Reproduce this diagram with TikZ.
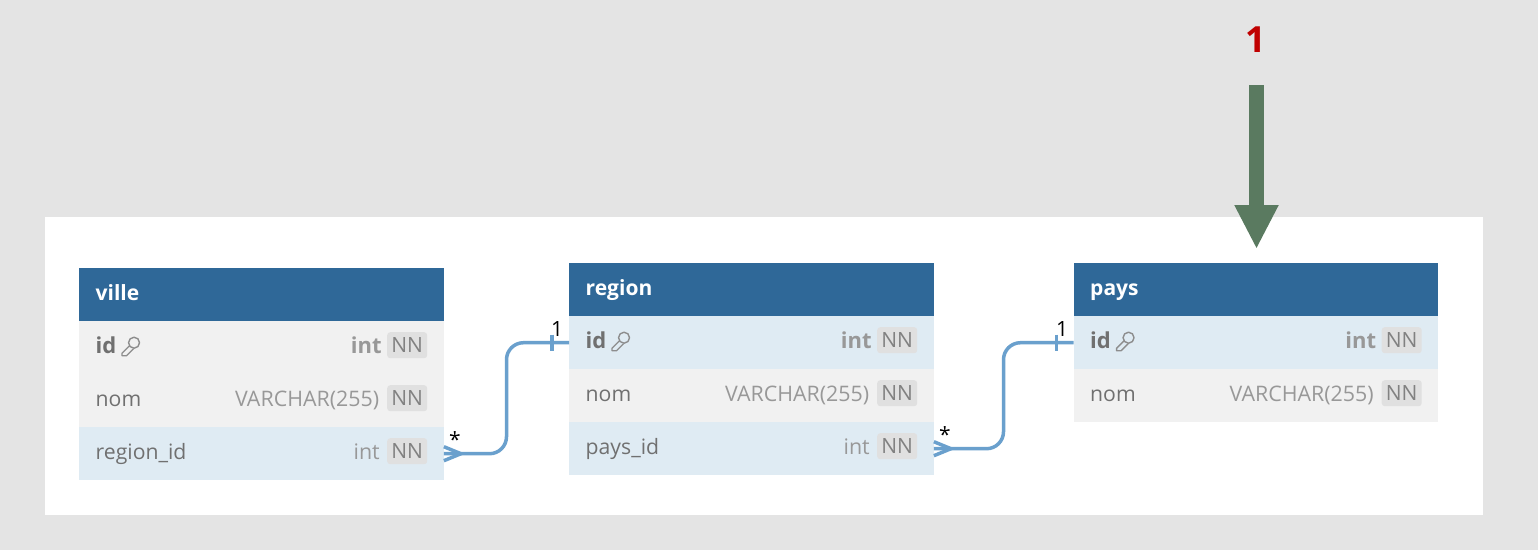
\documentclass[tikz,border=0pt]{standalone}
\usepackage{fontspec}
\setmainfont{Open Sans}
\usetikzlibrary{arrows.meta,positioning,calc}
\definecolor{pagegrey}{RGB}{228,228,228}
\definecolor{headblue}{RGB}{47,104,152}
\definecolor{rowgrey}{RGB}{241,241,241}
\definecolor{rowblue}{RGB}{223,235,243}
\definecolor{linkblue}{RGB}{106,160,205}
\definecolor{namegrey}{RGB}{112,112,112}
\definecolor{typegrey}{RGB}{152,152,152}
\definecolor{badgegrey}{RGB}{224,224,224}
\definecolor{arrowgreen}{RGB}{90,122,96}
\definecolor{markred}{RGB}{192,0,0}
\tikzset{
  tablehead/.style={fill=headblue,text=white,minimum width=364.5pt,minimum height=53pt,anchor=north west,inner sep=0pt},
  plainrow/.style={fill=rowgrey,minimum width=364.5pt,minimum height=53pt,anchor=north west,inner sep=0pt},
  linkrow/.style={plainrow,fill=rowblue},
  headtext/.style={text=white,font=\fontsize{21}{21}\selectfont\bfseries,anchor=base west,inner sep=0pt},
  nametext/.style={text=namegrey,font=\fontsize{21.2}{21}\selectfont,anchor=base west,inner sep=0pt},
  typetext/.style={text=typegrey,font=\fontsize{21.4}{21}\selectfont,anchor=base east,inner sep=0pt},
  keytext/.style={font=\fontsize{22}{21}\selectfont\bfseries},
  badge/.style={fill=badgegrey,rounded corners=3pt,text=typegrey!85!black,font=\fontsize{21}{21}\selectfont,minimum width=40pt,minimum height=26pt,inner sep=0pt,anchor=east},
  link/.style={linkblue,line width=3.5pt,rounded corners=17pt},
  linkmark/.style={linkblue,line width=3.5pt},
  endlabel/.style={text=black,font=\fontsize{21}{21}\selectfont,inner sep=0pt},
  keyicon/.style={namegrey!80,line width=1.4pt,line join=round}
}
% name, type and NN of one row
\newcommand{\rowtext}[5][]{
  \node[nametext,#1] (#2name) at ($(#2.west)+(16.5,5.5)$) {#3};
  \node[badge] (#2nn) at ($(#2.east)+(-16.5,-2.5)$) {NN};
  \node[typetext,#1] (#2type) at ($(#2.east)+(#5,5.5)$) {#4};
}
% small key after an id
\newcommand{\keymark}[1]{
  \draw[keyicon] ($(#1name.base east)+(13,-7.5)$) -- ++(-7.5,7.5) -- ++(0,2.5) -- ++(4.5,0) -- ++(7,-7);
  \draw[keyicon] ($(#1name.base east)+(17.5,-10.5)$) circle (5.5pt);
}
\begin{document}
\begin{tikzpicture}[x=1pt,y=-1pt]
    \useasboundingbox (0,0) rectangle (1538,550);
    \fill[pagegrey] (0,0) rectangle (1538,550);
    \fill[white] (45,217) rectangle (1483,515);
    % ville
    \node[tablehead] (ville) at (79,268) {};
    \node[headtext] (villetitle) at ($(ville.west)+(16.5,5.5)$) {ville};
    \node[plainrow] (villeid) at (79,321) {};
    \node[plainrow] (villenom) at (79,374) {};
    \node[linkrow] (villeregion) at (79,427) {};
    \rowtext[keytext]{villeid}{id}{int}{-62}
    \keymark{villeid}
    \rowtext{villenom}{nom}{VARCHAR(255)}{-64.5}
    \rowtext{villeregion}{region\_id}{int}{-64}
    % region
    \node[tablehead] (region) at (569,263) {};
    \node[headtext] (regiontitle) at ($(region.west)+(16.5,5.5)$) {region};
    \node[linkrow] (regionid) at (569,316) {};
    \node[plainrow] (regionnom) at (569,369) {};
    \node[linkrow] (regionpays) at (569,422) {};
    \rowtext[keytext]{regionid}{id}{int}{-62}
    \keymark{regionid}
    \rowtext{regionnom}{nom}{VARCHAR(255)}{-64.5}
    \rowtext{regionpays}{pays\_id}{int}{-64}
    % pays
    \node[tablehead] (pays) at (1073.5,263) {};
    \node[headtext] (paystitle) at ($(pays.west)+(16.5,5.5)$) {pays};
    \node[linkrow] (paysid) at (1073.5,316) {};
    \node[plainrow] (paysnom) at (1073.5,369) {};
    \rowtext[keytext]{paysid}{id}{int}{-62}
    \keymark{paysid}
    \rowtext{paysnom}{nom}{VARCHAR(255)}{-64.5}
    % links
    \coordinate (bendone) at (506.5,400);
    \coordinate (bendtwo) at (1003.5,400);
    \draw[link] (villeregion.east) -| (bendone) |- (regionid.west);
    \draw[link] (regionpays.east) -| (bendtwo) |- (paysid.west);
    % crow feet
    \draw[linkmark] ($(villeregion.east)+(0,-7)$) -- ($(villeregion.east)+(17,0)$) -- ($(villeregion.east)+(0,7)$);
    \draw[linkmark] ($(regionpays.east)+(0,-7)$) -- ($(regionpays.east)+(17,0)$) -- ($(regionpays.east)+(0,7)$);
    % one marks
    \draw[linkmark] ($(regionid.west)+(-17,-8)$) -- ($(regionid.west)+(-17,8)$);
    \draw[linkmark] ($(paysid.west)+(-17,-8)$) -- ($(paysid.west)+(-17,8)$);
    \node[endlabel] (villestar) at (455,440) {*};
    \node[endlabel] (regionone) at (557,329) {1};
    \node[endlabel] (regionstar) at (945,435) {*};
    \node[endlabel] (paysone) at (1062,329) {1};
    % callout
    \node[text=markred,font=\fontsize{36}{36}\selectfont\bfseries,inner sep=0pt] (callout) at (1255.5,40) {1};
    \coordinate (arrowstart) at (1256.5,85);
    \coordinate (arrowend) at (1256.5,249);
    \draw[-{Triangle[width=41pt,length=44pt]},arrowgreen,line width=15pt] (arrowstart) -- (arrowend);
\end{tikzpicture}
\end{document}
